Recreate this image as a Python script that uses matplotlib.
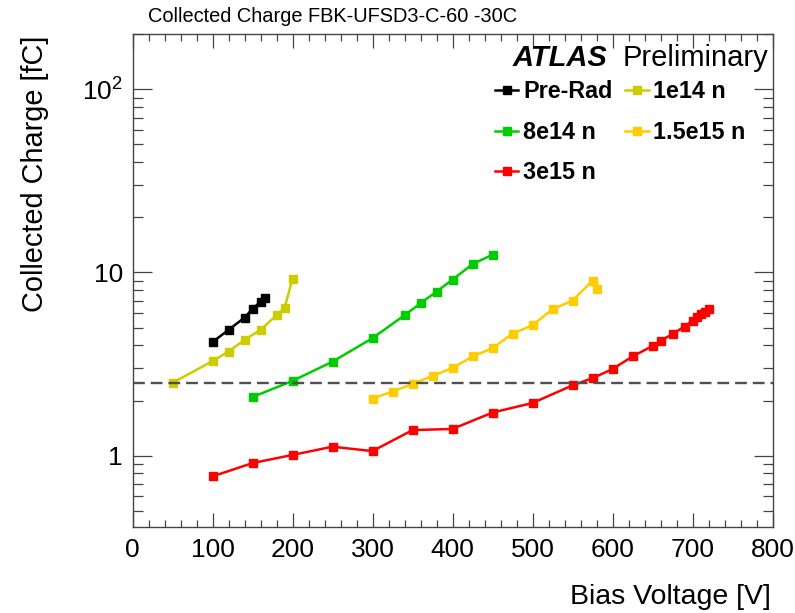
import matplotlib
matplotlib.use("Agg")
import matplotlib.pyplot as plt
from matplotlib.ticker import FixedLocator, MultipleLocator, LogLocator, NullFormatter, FuncFormatter

# ---- data ----
prerad_v = [100, 120, 140, 150, 160, 165]
prerad_q = [4.17, 4.86, 5.67, 6.33, 6.93, 7.29]

n1e14_v = [50, 100, 120, 140, 160, 180, 190, 200]
n1e14_q = [2.50, 3.28, 3.70, 4.29, 4.86, 5.84, 6.38, 9.22]

n8e14_v = [150, 200, 250, 300, 340, 360, 380, 400, 425, 450]
n8e14_q = [2.09, 2.56, 3.26, 4.38, 5.84, 6.79, 7.86, 9.14, 11.1, 12.5]

n15e15_v = [300, 325, 350, 375, 400, 425, 450, 475, 500, 525, 550, 575, 580]
n15e15_q = [2.05, 2.24, 2.46, 2.73, 3.01, 3.48, 3.86, 4.64, 5.15, 6.30, 7.02, 9.02, 8.10]

n3e15_v = [100, 150, 200, 250, 300, 350, 400, 450, 500, 550, 575, 600, 625, 650,
           660, 675, 690, 700, 705, 710, 715, 720]
n3e15_q = [0.771, 0.912, 1.01, 1.12, 1.06, 1.38, 1.40, 1.72, 1.94, 2.42, 2.65, 2.97,
           3.48, 3.97, 4.24, 4.61, 5.07, 5.46, 5.70, 5.92, 6.11, 6.30]

threshold = 2.5

series = [
    ("Pre-Rad", prerad_v, prerad_q, "black"),
    ("1e14 n", n1e14_v, n1e14_q, "#cccc00"),
    ("8e14 n", n8e14_v, n8e14_q, "#00cc00"),
    ("1.5e15 n", n15e15_v, n15e15_q, "#ffcc00"),
    ("3e15 n", n3e15_v, n3e15_q, "#ff0000"),
]

plt.rcParams["font.family"] = ["Liberation Sans", "DejaVu Sans"]
plt.rcParams["mathtext.fontset"] = "custom"
plt.rcParams["mathtext.rm"] = "Liberation Sans"

W, H = 795, 613
fig = plt.figure(figsize=(W / 100, H / 100), dpi=100)
ax = fig.add_axes([132.5 / W, 1 - 526.7 / H, 640 / W, (526.7 - 34) / H])

handles = {}
for name, v, q, c in series:
    ln, = ax.plot(v, q, color=c, lw=1.8, marker="s", ms=5.8, mec=c, mfc=c)
    handles[name] = ln

ax.axhline(threshold, color="#505050", lw=1.7, dashes=(5, 2.5))

ax.set_xlim(0, 800)
ax.set_yscale("log")
ax.set_ylim(0.41, 200)

ax.xaxis.set_major_locator(MultipleLocator(100))
ax.xaxis.set_minor_locator(MultipleLocator(20))
ax.yaxis.set_major_locator(FixedLocator([1, 10, 100]))
ax.yaxis.set_minor_locator(LogLocator(base=10, subs=range(2, 10)))
ax.yaxis.set_minor_formatter(NullFormatter())


def yfmt(val, pos):
    if val >= 100:
        return r"$\mathregular{10^{2}}$"
    return "%d" % val


ax.yaxis.set_major_formatter(FuncFormatter(yfmt))

ax.tick_params(axis="both", which="both", direction="in", top=True, right=True,
               labelsize=19, width=0.9, colors="#444444", labelcolor="black")
ax.tick_params(axis="x", which="major", length=10, pad=8)
ax.tick_params(axis="x", which="minor", length=5)
ax.tick_params(axis="y", which="major", length=13.5, pad=7)
ax.tick_params(axis="y", which="minor", length=7)
for sp in ax.spines.values():
    sp.set_color("#444444")
    sp.set_linewidth(1.0)

# titles and axis labels (ROOT style placement)
fig.text(148 / W, 1 - 17 / H, "Collected Charge FBK-UFSD3-C-60 -30C",
         fontsize=14.4, ha="left", va="center")
fig.text(771 / W, 1 - 597 / H, "Bias Voltage [V]", fontsize=20.5, ha="right", va="center")
fig.text(35 / W, 1 - 36 / H, "Collected Charge [fC]", fontsize=20.8, rotation=90,
         ha="center", va="top")

fig.text(513 / W, 1 - 66 / H, "ATLAS", fontsize=21, fontweight="bold",
         fontstyle="italic", ha="left", va="baseline")
fig.text(768 / W, 1 - 66 / H, "Preliminary", fontsize=21, ha="right", va="baseline")

order = ["Pre-Rad", "8e14 n", "3e15 n", "1e14 n", "1.5e15 n"]
leg = ax.legend([handles[k] for k in order], order, ncol=2, frameon=False,
                loc="upper left", bbox_to_anchor=(495 / W, 1 - 80 / H),
                bbox_transform=fig.transFigure,
                prop={"size": 16.8, "weight": "bold"}, numpoints=1,
                handlelength=1.0, handletextpad=0.2, columnspacing=0.55,
                labelspacing=0.76, borderpad=0, borderaxespad=0)

fig.savefig("out.png", dpi=100)
